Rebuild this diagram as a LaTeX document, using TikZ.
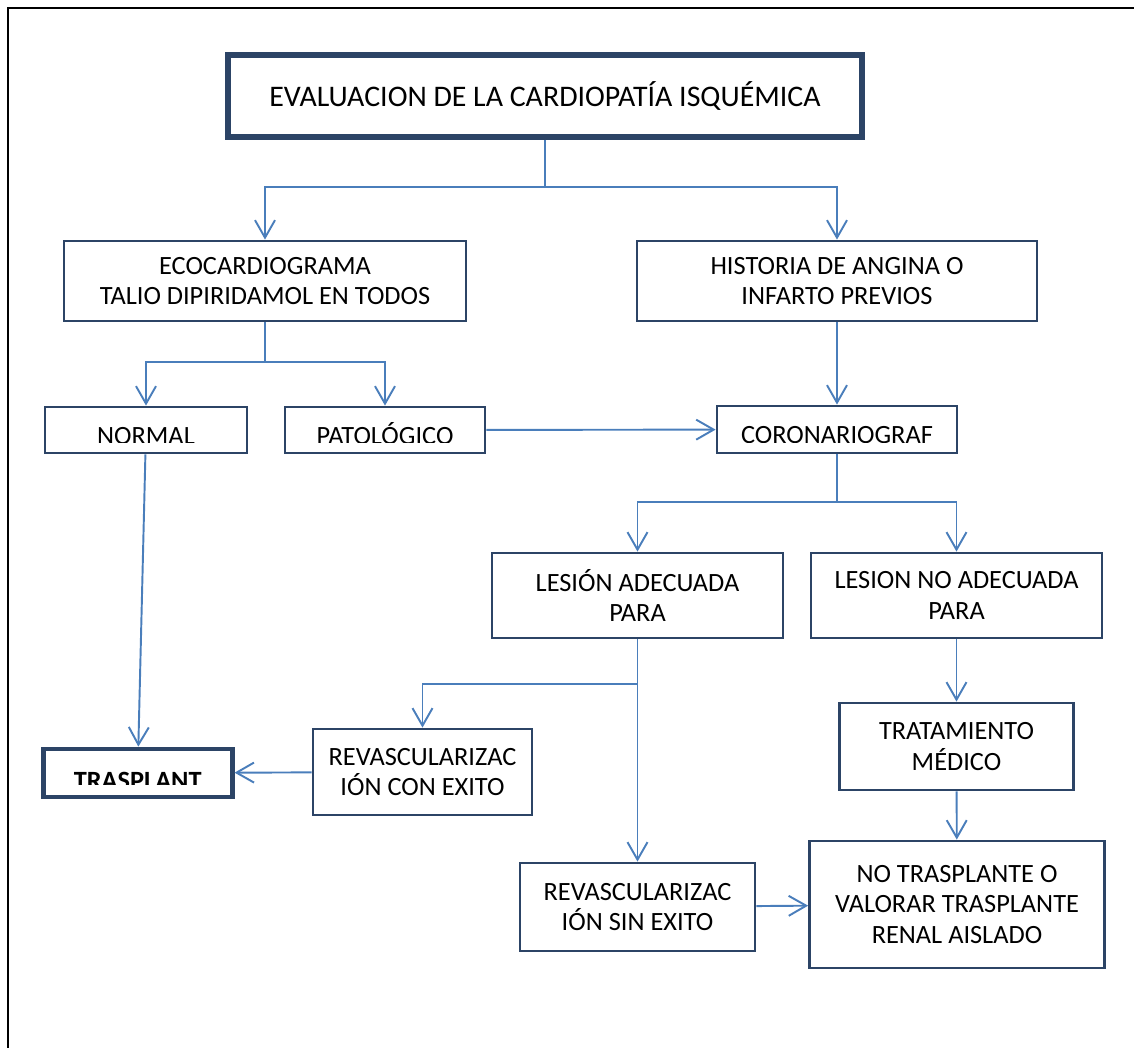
\documentclass[tikz,border=0pt]{standalone}
\usepackage{fontspec}
\setmainfont{Carlito}
\usepackage{tikz}
\usetikzlibrary{arrows.meta}
\definecolor{boxrule}{RGB}{44,68,102}
\definecolor{linkblue}{RGB}{74,126,187}
\newcommand{\boxfont}{\fontsize{15}{17.5}\selectfont}
\newcommand{\titlefont}{\fontsize{17}{20}\selectfont}
\tikzset{
  flow/.style={rectangle,draw=boxrule,line width=1.6pt,align=center,inner sep=0pt,font=\boxfont,fill=white},
  titleflow/.style={flow,line width=3pt,font=\titlefont},
  cutflow/.style={flow,path picture={
      \clip ([yshift=0.2cm]path picture bounding box.south west) rectangle (path picture bounding box.north east);
      \node[anchor=base,inner sep=0pt,font=\boxfont] at ([yshift=-0.76cm]path picture bounding box.north) {#1};}},
  boldcutflow/.style={flow,line width=2.7pt,path picture={
      \clip ([yshift=0.26cm]path picture bounding box.south west) rectangle (path picture bounding box.north east);
      \node[anchor=base,inner sep=0pt,font=\boxfont\bfseries] at ([yshift=-0.8cm]path picture bounding box.north) {#1};}},
  link/.style={draw=linkblue,line width=1.1pt},
  edge/.style={link,-{Straight Barb[length=3.5mm,width=4mm]}},
  frame/.style={draw=black,line width=1.7pt}
}

\begin{document}
\begin{tikzpicture}[x=0.02cm,y=-0.02cm]
  \useasboundingbox (0,0) rectangle (1134,1048);
  \clip (0,0) rectangle (1134,1048);
  \draw[frame] (8,8) rectangle (1160,1080);

  \node[titleflow,minimum width=12.68cm,minimum height=1.64cm] (eval) at (545,96) {EVALUACION DE LA CARDIOPATÍA ISQUÉMICA};
  \node[flow,minimum width=8.04cm,minimum height=1.6cm] (eco) at (265,281) {ECOCARDIOGRAMA\\TALIO DIPIRIDAMOL EN TODOS};
  \node[flow,minimum width=8.0cm,minimum height=1.6cm] (hist) at (837,281) {HISTORIA DE ANGINA O\\INFARTO PREVIOS};
  \node[cutflow={NORMAL},minimum width=4.04cm,minimum height=0.92cm] (normal) at (146,430) {};
  \node[cutflow={PATOLÓGICO},minimum width=4.0cm,minimum height=0.92cm] (pato) at (385,430) {};
  \node[cutflow={CORONARIOGRAF},minimum width=4.8cm,minimum height=0.94cm] (coro) at (837,429.5) {};
  \node[flow,minimum width=5.82cm,minimum height=1.7cm] (lesad) at (637.5,595.5) {LESIÓN ADECUADA\\PARA};
  \node[flow,minimum width=5.82cm,minimum height=1.7cm] (lesno) at (956.5,595.5) {LESION NO ADECUADA\\PARA};
  \node[flow,minimum width=4.38cm,minimum height=1.72cm] (revcon) at (422.5,772) {REVASCULARIZAC\\IÓN CON EXITO};
  \node[boldcutflow={TRASPLANT},minimum width=3.78cm,minimum height=0.96cm] (trasp) at (137.7,773) {};
  \node[flow,minimum width=4.68cm,minimum height=1.74cm] (trat) at (956.5,746.5) {TRATAMIENTO\\MÉDICO};
  \node[flow,minimum width=4.7cm,minimum height=1.76cm] (revsin) at (637.5,907) {REVASCULARIZAC\\IÓN SIN EXITO};
  \node[flow,minimum width=5.9cm,minimum height=2.54cm] (notrasp) at (957,904.5) {NO TRASPLANTE O\\VALORAR TRASPLANTE\\RENAL AISLADO};

  % branch points
  \coordinate (t1) at (545,187);
  \coordinate (e1) at (265,362);
  \coordinate (c1) at (837,502);
  \coordinate (l1) at (637.5,684);

  \draw[link] (eval) -- (t1);
  \draw[edge] (t1) -| (eco);
  \draw[edge] (t1) -| (hist);
  \draw[link] (eco) -- (e1);
  \draw[edge] (e1) -| (normal);
  \draw[edge] (e1) -| (pato);
  \draw[edge] (hist) -- (coro);
  \draw[edge] (pato) -- (coro);
  \draw[link] (coro) -- (c1);
  \draw[edge] (c1) -| (lesad);
  \draw[edge] (c1) -| (lesno);
  \draw[link] (lesad) -- (l1);
  \draw[edge] (l1) -| (revcon);
  \draw[edge] (l1) -- (revsin);
  \draw[edge] (normal) -- (trasp);
  \draw[edge] (revcon) -- (trasp);
  \draw[edge] (lesno) -- (trat);
  \draw[edge] (trat) -- (notrasp);
  \draw[edge] (revsin) -- (notrasp);
\end{tikzpicture}
\end{document}
